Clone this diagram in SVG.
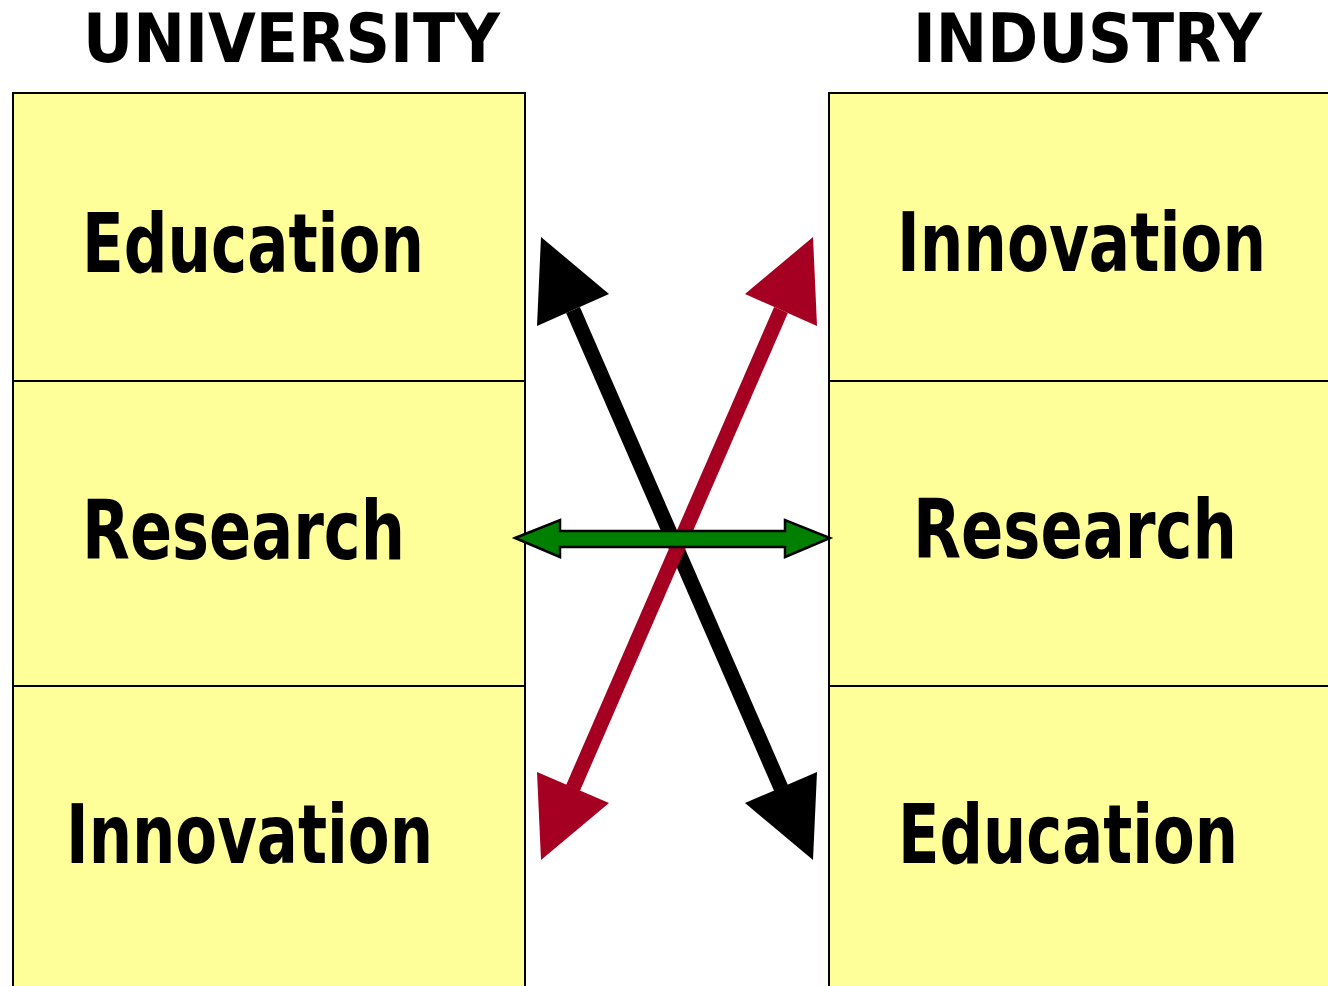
<svg xmlns="http://www.w3.org/2000/svg" width="1328" height="986" viewBox="0 0 1328 986">
  <style>
    .box { fill: #ffff99; stroke: #000; stroke-width: 2; }
    .cell { fill: #ffff99; }
    .edge { fill: none; stroke: #000; stroke-width: 2; }
    .title { font-family: "DejaVu Sans Condensed", "DejaVu Sans", "Liberation Sans", sans-serif; font-stretch: condensed; font-weight: bold; font-size: 68px; fill: #000; }
    .label { font-family: "DejaVu Sans Condensed", "DejaVu Sans", "Liberation Sans", sans-serif; font-stretch: condensed; font-weight: bold; font-size: 82px; fill: #000; }
    .black { fill: #000; }
    .red { fill: #a50021; }
  </style>

  <rect width="1328" height="986" fill="#fff"/>

  <text class="title" x="83" y="62" textLength="417" lengthAdjust="spacingAndGlyphs">UNIVERSITY</text>
  <text class="title" x="913" y="62" textLength="349" lengthAdjust="spacingAndGlyphs">INDUSTRY</text>

  <!-- University column -->
  <g id="uni-education">
    <rect class="box" x="13" y="93" width="512" height="288"/>
    <text class="label" x="82" y="272" textLength="342" lengthAdjust="spacingAndGlyphs">Education</text>
  </g>
  <g id="uni-research">
    <rect class="box" x="13" y="381" width="512" height="305"/>
    <text class="label" x="82" y="559" textLength="323" lengthAdjust="spacingAndGlyphs">Research</text>
  </g>
  <g id="uni-innovation">
    <rect class="box" x="13" y="686" width="512" height="310"/>
    <text class="label" x="66" y="863" textLength="367" lengthAdjust="spacingAndGlyphs">Innovation</text>
  </g>

  <!-- Industry column (runs past the right edge, so no right border) -->
  <g id="ind-innovation">
    <rect class="cell" x="829" y="93" width="499" height="288"/>
    <path class="edge" d="M1328,93 H829 V381"/>
    <text class="label" x="897" y="271" textLength="369" lengthAdjust="spacingAndGlyphs">Innovation</text>
  </g>
  <g id="ind-research">
    <rect class="cell" x="829" y="381" width="499" height="305"/>
    <path class="edge" d="M1328,381 H829 V686"/>
    <text class="label" x="913" y="558" textLength="324" lengthAdjust="spacingAndGlyphs">Research</text>
  </g>
  <g id="ind-education">
    <rect class="cell" x="829" y="686" width="499" height="300"/>
    <path class="edge" d="M1328,686 H829 V986"/>
    <text class="label" x="898" y="863" textLength="340" lengthAdjust="spacingAndGlyphs">Education</text>
  </g>

  <!-- Connectors -->
  <g id="connectors">
    <!-- black: university education <-> industry education -->
    <line x1="573" y1="310" x2="781" y2="788" stroke="#000" stroke-width="15"/>
    <polygon class="black" points="541,237 609,294 537,326"/>
    <polygon class="black" points="813,860 745,803 817,772"/>

    <!-- red: university innovation <-> industry innovation -->
    <line x1="781" y1="310" x2="573" y2="788" stroke="#a50021" stroke-width="15"/>
    <polygon class="red" points="813,237 817,326 745,294"/>
    <polygon class="red" points="541,860 537,772 609,803"/>

    <!-- green: research <-> research -->
    <polygon fill="#007f00" stroke="#000" stroke-width="2.5" stroke-linejoin="miter"
      points="515,538 560,520 560,531 785,531 785,520 830,538 785,557 785,547 560,547 560,557"/>
  </g>
</svg>
